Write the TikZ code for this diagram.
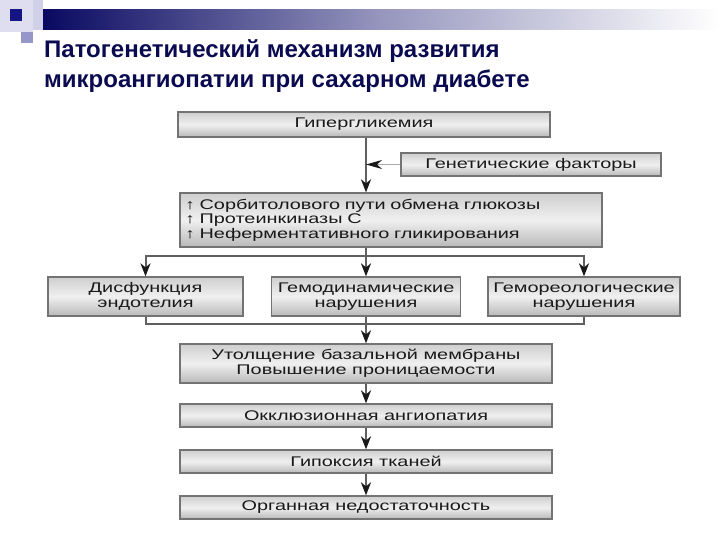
\documentclass[tikz,border=0pt]{standalone}
\usepackage{fontspec}
\usetikzlibrary{arrows.meta,calc}
\setmainfont{Liberation Sans}
\newfontfamily\boxfont[FakeStretch=1.42]{Liberation Sans}
\definecolor{navy}{RGB}{10,10,80}
\definecolor{decdark}{RGB}{20,20,130}
\definecolor{decpale}{RGB}{222,222,240}
\definecolor{decmid}{RGB}{150,150,200}
\definecolor{linegray}{RGB}{95,95,95}
\definecolor{tipgray}{RGB}{25,25,25}
\definecolor{boxborder}{RGB}{115,115,115}
\definecolor{boxtext}{RGB}{25,25,25}
\tikzset{
  boxst/.style={draw=boxborder, line width=1.3pt, top color=gray!38, bottom color=gray!55, middle color=gray!12,
    inner sep=0pt, anchor=center, font=\boxfont\fontsize{14}{14.5}\selectfont, text=boxtext, align=center},
  conn/.style={draw=linegray, line width=2pt, -{Stealth[length=13pt,width=10pt,inset=4pt,color=tipgray]}},
  sideconn/.style={draw=gray!65, line width=1.3pt, -{Stealth[length=16pt,width=9pt,inset=5pt,color=tipgray]}},
  plainline/.style={draw=linegray, line width=2pt},
  titlest/.style={font=\bfseries\fontsize{24}{30}\selectfont, text=navy, anchor=north west, align=left, inner sep=0pt}
}
\begin{document}
\begin{tikzpicture}[x=1pt,y=-1pt]
\useasboundingbox (0,0) rectangle (720,540);
% decoration
\fill[decpale] (0,0) rectangle (33,32);
\fill[decdark] (10,9) rectangle (22,21);
\fill[decmid] (21,32) rectangle (33,43);
\fill[decpale!80!decmid] (33,0) rectangle (43,30);
\shade[left color=navy!90!blue, right color=white, middle color={rgb,255:red,150;green,150;blue,190}] (43,10) rectangle (720,30);
% title
\node[titlest] (title) at (44,39) {Патогенетический механизм развития\\микроангиопатии при сахарном диабете};
% boxes
\node[boxst, minimum width=372pt, minimum height=25pt] (hyp) at (364,124.5) {Гипергликемия};
\node[boxst, minimum width=260pt, minimum height=23pt] (gen) at (531,164.5) {Генетические факторы};
\node[boxst, minimum width=422pt, minimum height=54pt, text width=412pt, align=left] (big) at (391,220)
  {↑ Сорбитолового пути обмена глюкозы\\↑ Протеинкиназы С\\↑ Неферментативного гликирования};
\node[boxst, minimum width=195pt, minimum height=39pt] (dys) at (145.5,296.5) {Дисфункция\\эндотелия};
\node[boxst, minimum width=189pt, minimum height=39pt] (hem) at (366,296.5) {Гемодинамические\\нарушения};
\node[boxst, minimum width=192pt, minimum height=39pt] (hemo) at (584,296.5) {Гемореологические\\нарушения};
\node[boxst, minimum width=372pt, minimum height=39pt] (thick) at (366,363.5) {Утолщение базальной мембраны\\Повышение проницаемости};
\node[boxst, minimum width=372pt, minimum height=23pt] (occ) at (366,415.5) {Окклюзионная ангиопатия};
\node[boxst, minimum width=372pt, minimum height=23pt] (hypox) at (366,461.5) {Гипоксия тканей};
\node[boxst, minimum width=372pt, minimum height=23pt] (organ) at (366,507.5) {Органная недостаточность};
% connectors
\coordinate (trunk) at (366,0);
\coordinate (split) at (366,256);
\coordinate (merge) at (366,324);
\draw[conn] (hyp.south -| trunk) -- (big.north -| trunk);
\draw[sideconn] (gen.west) -- (gen.west -| trunk);
\draw[plainline] (big.south -| trunk) -- (split);
\draw[conn] (split) -| (dys.north);
\draw[conn] (split) -| (hemo.north);
\draw[conn] (split) -- (hem.north);
\draw[plainline] (dys.south) |- (merge);
\draw[plainline] (hemo.south) |- (merge);
\draw[plainline] (hem.south) -- (merge);
\draw[conn] (merge) -- (thick.north);
\draw[conn] (thick.south) -- (occ.north);
\draw[conn] (occ.south) -- (hypox.north);
\draw[conn] (hypox.south) -- (organ.north);
\end{tikzpicture}
\end{document}
